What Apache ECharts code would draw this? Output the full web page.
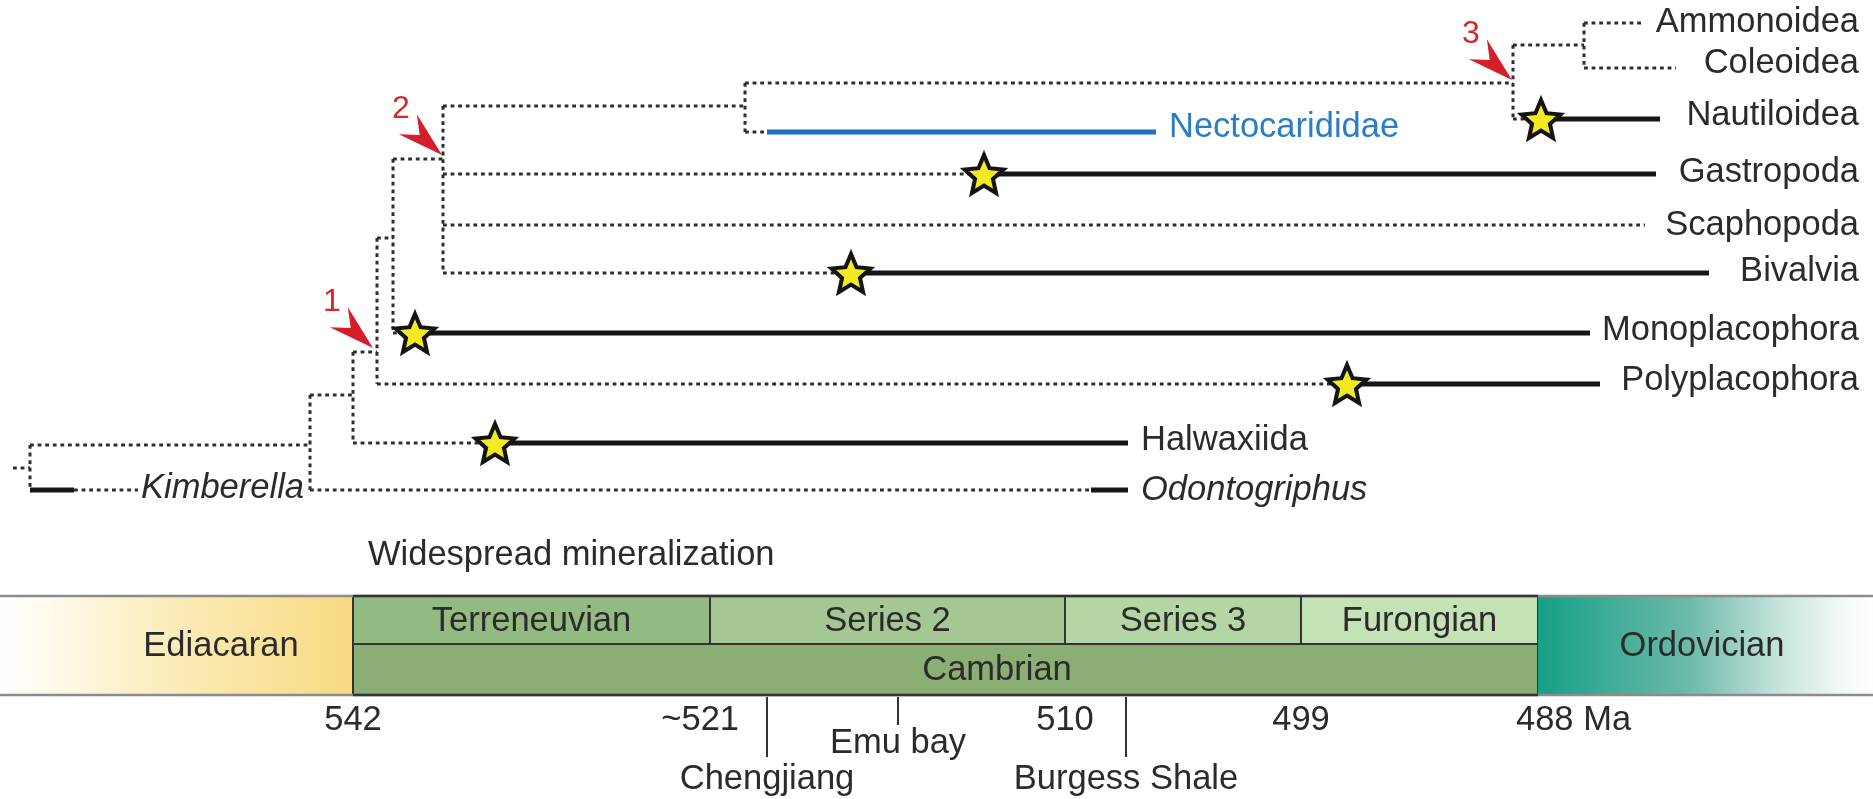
<!DOCTYPE html>
<html><head><meta charset="utf-8">
<script src="https://cdn.jsdelivr.net/npm/echarts@6/dist/echarts.min.js"></script>
<style>html,body{margin:0;padding:0;background:#fff}#c{width:1873px;height:799px}</style>
</head><body><div id="c"></div>
<script>
// ================= DATA (x/y in figure units) =================
// Terminal taxa
const taxa        = ['Ammonoidea','Coleoidea','Nautiloidea','Nectocarididae','Gastropoda','Scaphopoda','Bivalvia','Monoplacophora','Polyplacophora','Halwaxiida','Odontogriphus','Kimberella'];
const taxonRow    = [23, 68, 119, 132, 174, 225, 273, 333, 384, 443, 490, 490];
const taxonParent = ['nAC','nAC','nCeph','nCN','n2','n2','n2','n393','n377','n1','n310','root'];
const firstFossil = [null, null, 1541, 767, 984, null, 851, 415, 1347, 495, 1091, 30];
const rangeEnd    = [1642, 1676, 1660, 1156, 1656, 1645, 1709, 1590, 1600, 1128, 1128, 74];
const leaderEnd   = [null, null, null, null, null, null, null, null, null, null, null, 138];
const hasStar     = [false, false, true, false, true, false, true, true, true, true, false, false];
const italicName  = [false, false, false, false, false, false, false, false, false, false, true, true];
const labelRow    = [22, 63, 115, 127, 172, 225, 271, 330, 380, 440, 490, 488];

// Internal nodes of the tree
const nodeNames  = ['nAC','nCeph','nCN','n2','n393','n377','n1','n310','root'];
const nodeX      = [1584, 1513, 745, 443, 393, 377, 353, 310, 30];
const nodeY      = [45, 83, 106, 159, 238, 352, 395, 445, 468];
const nodeParent = ['nCeph','nCN','n2','n393','n377','n1','n310','root', null];
const rootStubX  = 13;

// Numbered arrows (tips)
const arrowNames = ['1','2','3'];
const arrowTipX  = [373, 442, 1512];
const arrowTipY  = [348, 155, 80];

// Geological time scale
const boundaryMa    = [542, 521, 510, 499, 488];
const boundaryX     = [353, 710, 1065, 1301, 1538];
const tickLabels    = ['542', '~521', '510', '499', '488 Ma'];
const seriesNames   = ['Terreneuvian', 'Series 2', 'Series 3', 'Furongian'];
const periodNames   = ['Ediacaran', 'Cambrian', 'Ordovician'];
const periodLabelX  = [221, 997, 1702];
const lagerstatten  = ['Chengjiang', 'Emu bay', 'Burgess Shale'];
const lagerX        = [767, 898, 1126];
const lagerLong     = [true, false, true];
const noteText      = 'Widespread mineralization';

// ================= LAYOUT / STYLE =================
const W = 1873, H = 799;
const BAND_TOP = 596, BAND_MID = 644, BAND_BOT = 695;
const FONT = '"Liberation Sans", Arial, Helvetica, sans-serif';
const FS = 34.5;
const TXT = '#2b2b2b';
const RIGHT_EDGE = 1859;
const seriesColors = ['#94ba83', '#a4c794', '#b4d6a5', '#c3e2b5'];
const cambrianColor = '#8aae74';
const segStyles = [
  {color: '#2e2e2e', width: 3, dash: [3.8, 3.8]},
  {color: '#161616', width: 5, dash: null},
  {color: '#1d6fbf', width: 5, dash: null}
];

// ================= BUILD =================
const nIdx = n => nodeNames.indexOf(n);
const segs = [];
nodeNames.forEach((n, i) => {
  const ys = [];
  taxa.forEach((t, j) => { if (taxonParent[j] === n) ys.push(taxonRow[j]); });
  nodeNames.forEach((m, k) => { if (nodeParent[k] === n) ys.push(nodeY[k]); });
  segs.push([nodeX[i], Math.min(...ys), nodeX[i], Math.max(...ys), 0]);
  const px = nodeParent[i] ? nodeX[nIdx(nodeParent[i])] : rootStubX;
  segs.push([px, nodeY[i], nodeX[i], nodeY[i], 0]);
});
taxa.forEach((t, j) => {
  const px = nodeX[nIdx(taxonParent[j])];
  const y = taxonRow[j];
  const f = firstFossil[j];
  const solidKind = t === 'Nectocarididae' ? 2 : 1;
  if (f === null) segs.push([px, y, rangeEnd[j], y, 0]);
  else {
    if (f > px) segs.push([px, y, f, y, 0]);
    segs.push([f, y, rangeEnd[j], y, solidKind]);
  }
  if (leaderEnd[j] != null) segs.push([rangeEnd[j], y, leaderEnd[j], y, 0]);
});
segs.sort((a, b) => a[4] - b[4]);

const stars = [];
taxa.forEach((t, j) => { if (hasStar[j]) stars.push([firstFossil[j], taxonRow[j]]); });

// star path
let sp = '';
for (let i = 0; i < 10; i++) {
  const a = (-90 + i * 36) * Math.PI / 180, r = i % 2 ? 23 : 50;
  sp += (i ? 'L' : 'M') + (50 + r * Math.cos(a)).toFixed(2) + ',' + (50 + r * Math.sin(a)).toFixed(2);
}
sp += 'Z';

// labels of taxa
const labelData = taxa.map((t, j) => {
  const leftSide = ['Nectocarididae', 'Halwaxiida', 'Odontogriphus', 'Kimberella'].includes(t);
  let x;
  if (!leftSide) x = RIGHT_EDGE;
  else x = (leaderEnd[j] != null ? leaderEnd[j] + 3 : rangeEnd[j] + 13);
  return [x, labelRow[j], j, leftSide ? 0 : 1];
});

// time-scale boxes: [x0, x1, y0, y1, kind, index]
const boxes = [];
boxes.push([0, boundaryX[0], BAND_TOP, BAND_BOT, 0, 0]); // Ediacaran
for (let i = 0; i < seriesNames.length; i++) boxes.push([boundaryX[i], boundaryX[i + 1], BAND_TOP, BAND_MID, 1, i]);
boxes.push([boundaryX[0], boundaryX[4], BAND_MID, BAND_BOT, 2, 1]); // Cambrian
boxes.push([boundaryX[4], W, BAND_TOP, BAND_BOT, 3, 2]); // Ordovician

const chart = echarts.init(document.getElementById('c'), null, {renderer: 'canvas'});
const txtStyle = (extra) => Object.assign({fill: TXT, fontSize: FS, fontFamily: FONT, verticalAlign: 'middle'}, extra);

chart.setOption({
  animation: false,
  backgroundColor: '#ffffff',
  grid: {left: 0, right: 0, top: 0, bottom: 0},
  xAxis: {type: 'value', min: 0, max: W, show: false},
  yAxis: {type: 'value', min: 0, max: H, inverse: true, show: false},
  series: [
    // time scale band
    {
      type: 'custom', clip: false, z: 1,
      data: boxes,
      renderItem: (params, api) => {
        const p0 = api.coord([api.value(0), api.value(2)]);
        const p1 = api.coord([api.value(1), api.value(3)]);
        const kind = api.value(4), idx = api.value(5);
        let fill, stroke = '#333', lw = 2;
        if (kind === 0) {
          fill = new echarts.graphic.LinearGradient(0, 0, 1, 0, [
            {offset: 0, color: '#ffffff'}, {offset: 0.08, color: '#fffdf6'},
            {offset: 0.45, color: '#fbedbd'}, {offset: 1, color: '#f8da80'}]);
          stroke = null;
        } else if (kind === 1) fill = seriesColors[idx];
        else if (kind === 2) fill = cambrianColor;
        else {
          fill = new echarts.graphic.LinearGradient(0, 0, 1, 0, [
            {offset: 0, color: '#16a087'}, {offset: 0.45, color: '#6cbaa8'},
            {offset: 0.72, color: '#c6e3dc'}, {offset: 0.92, color: '#f5faf9'}, {offset: 1, color: '#ffffff'}]);
          stroke = null;
        }
        const children = [{
          type: 'rect',
          shape: {x: p0[0], y: p0[1], width: p1[0] - p0[0], height: p1[1] - p0[1]},
          style: {fill: fill, stroke: stroke, lineWidth: lw}
        }];
        let label, lx = (p0[0] + p1[0]) / 2;
        if (kind === 1) label = seriesNames[idx];
        else { label = periodNames[idx]; lx = api.coord([periodLabelX[idx], 0])[0]; }
        children.push({type: 'text', x: lx, y: (p0[1] + p1[1]) / 2 + 1,
          style: txtStyle({text: label, align: 'center'})});
        return {type: 'group', children: children};
      }
    },
    // band outer lines
    {
      type: 'custom', clip: false, z: 2,
      data: [[0, BAND_TOP], [0, BAND_BOT]],
      renderItem: (params, api) => {
        const a = api.coord([0, api.value(1)]), b = api.coord([W, api.value(1)]);
        return {type: 'group', children: [
          {type: 'line', shape: {x1: a[0], y1: a[1], x2: b[0], y2: b[1]}, style: {stroke: '#8c8c8c', lineWidth: 2.5}},
          {type: 'line', shape: {x1: api.coord([boundaryX[0], 0])[0], y1: a[1], x2: api.coord([boundaryX[4], 0])[0], y2: b[1]}, style: {stroke: '#333', lineWidth: 2.5}}
        ]};
      }
    },
    // tick labels
    {
      type: 'custom', clip: false, z: 3,
      data: boundaryX.map((x, i) => [x, 720, i]),
      renderItem: (params, api) => {
        const p = api.coord([api.value(0), api.value(1)]);
        const i = api.value(2);
        const t = tickLabels[i];
        let align = 'center', x = p[0];
        if (t.startsWith('~')) { align = 'right'; x = p[0] + 29; }
        else if (t.endsWith('Ma')) { align = 'left'; x = p[0] - 22; }
        return {type: 'text', x: x, y: p[1], style: txtStyle({text: t, align: align})};
      }
    },
    // lagerstaetten
    {
      type: 'custom', clip: false, z: 3,
      data: lagerX.map((x, i) => [x, BAND_BOT + 2, i]),
      renderItem: (params, api) => {
        const i = api.value(2);
        const p = api.coord([api.value(0), api.value(1)]);
        const endY = lagerLong[i] ? 757 : 725;
        const txtY = lagerLong[i] ? 779 : 743;
        const q = api.coord([api.value(0), endY]);
        const t = api.coord([api.value(0), txtY]);
        return {type: 'group', children: [
          {type: 'line', shape: {x1: p[0], y1: p[1], x2: q[0], y2: q[1]}, style: {stroke: '#333', lineWidth: 2}},
          {type: 'text', x: t[0], y: t[1], style: txtStyle({text: lagerstatten[i], align: 'center'})}
        ]};
      }
    },
    // note
    {
      type: 'custom', clip: false, z: 3,
      data: [[boundaryX[0] + 15, 555]],
      renderItem: (params, api) => {
        const p = api.coord([api.value(0), api.value(1)]);
        return {type: 'text', x: p[0], y: p[1], style: txtStyle({text: noteText, align: 'left'})};
      }
    },
    // tree branches
    {
      type: 'custom', clip: false, z: 5,
      data: segs,
      renderItem: (params, api) => {
        const p1 = api.coord([api.value(0), api.value(1)]);
        const p2 = api.coord([api.value(2), api.value(3)]);
        const st = segStyles[api.value(4)];
        return {type: 'line', shape: {x1: p1[0], y1: p1[1], x2: p2[0], y2: p2[1]},
          style: {stroke: st.color, lineWidth: st.width, lineDash: st.dash, lineCap: 'butt'}};
      }
    },
    // taxon labels
    {
      type: 'custom', clip: false, z: 6,
      data: labelData,
      renderItem: (params, api) => {
        const p = api.coord([api.value(0), api.value(1)]);
        const j = api.value(2);
        const name = taxa[j];
        return {type: 'text', x: p[0], y: p[1], style: txtStyle({
          text: name, align: api.value(3) ? 'right' : 'left',
          fontStyle: italicName[j] ? 'italic' : 'normal',
          fill: name === 'Nectocarididae' ? '#2a7cc6' : TXT})};
      }
    },
    // first-fossil stars
    {
      type: 'scatter', z: 8,
      data: stars,
      symbol: 'path://' + sp,
      symbolSize: [39, 38],
      itemStyle: {color: '#f3ea22', borderColor: '#141414', borderWidth: 4, opacity: 1}
    },
    // numbered arrows
    {
      type: 'custom', clip: false, z: 9,
      data: arrowTipX.map((x, i) => [x, arrowTipY[i], i]),
      renderItem: (params, api) => {
        const tip = api.coord([api.value(0), api.value(1)]);
        const ang = 42 * Math.PI / 180;
        const d = [Math.cos(ang), Math.sin(ang)], n = [-Math.sin(ang), Math.cos(ang)];
        const L = 46, hw = 13.5, notch = 30;
        const pts = [
          tip,
          [tip[0] - L * d[0] + hw * n[0], tip[1] - L * d[1] + hw * n[1]],
          [tip[0] - notch * d[0], tip[1] - notch * d[1]],
          [tip[0] - L * d[0] - hw * n[0], tip[1] - L * d[1] - hw * n[1]]
        ];
        return {type: 'group', children: [
          {type: 'polygon', shape: {points: pts}, style: {fill: '#d41f2a'}},
          {type: 'text', x: tip[0] - 41, y: tip[1] - 46,
            style: txtStyle({text: arrowNames[api.value(2)], align: 'center', fill: '#d8262f', fontSize: 32})}
        ]};
      }
    }
  ]
});
</script>
</body></html>
